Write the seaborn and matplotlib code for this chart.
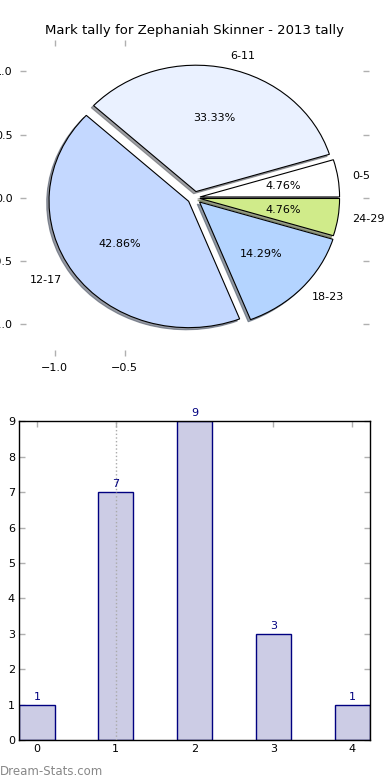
import matplotlib
matplotlib.use('Agg')
import matplotlib.pyplot as plt
import pandas as pd
import seaborn as sns

TITLE = 'Mark tally for Zephaniah Skinner - 2013 tally'
PIE_LABELS = ['0-5', '6-11', '12-17', '18-23', '24-29']
PIE_COUNTS = [1, 7, 9, 3, 1]
PIE_COLORS = ['#ffffff', '#eaf1ff', '#c4d8ff', '#b4d4ff', '#d0eb8a']
PIE_EXPLODE = [0.04, 0.05, 0.05, 0.05, 0.04]

BAR_POS = [0, 1, 2, 3, 4]
BAR_COUNTS = [1, 7, 9, 3, 1]
MARKER_X = 1

sns.set_theme(style='white')
plt.rcParams['font.family'] = ['DejaVu Sans']
plt.rcParams['font.size'] = 8
plt.rcParams['text.color'] = 'black'
plt.rcParams['xtick.labelcolor'] = 'black'
plt.rcParams['ytick.labelcolor'] = 'black'

fig = plt.figure(figsize=(3.9, 7.8), dpi=100)

# pie on top
ax1 = fig.add_axes([0.051, 0.544, 0.895, 0.405])
ax1.pie(PIE_COUNTS, labels=PIE_LABELS, colors=PIE_COLORS, explode=PIE_EXPLODE,
        autopct='%.2f%%', startangle=0,
        shadow={'ox': -0.012, 'oy': -0.012, 'shade': 0.6, 'alpha': 0.6},
        wedgeprops={'edgecolor': 'black', 'linewidth': 0.8},
        textprops={'fontsize': 8, 'color': 'black'})
ax1.set_aspect('auto')
ax1.set_xlim(-1.25, 1.25)
ax1.set_ylim(-1.25, 1.25)
ax1.set_xticks([-1.0, -0.5])
ax1.set_yticks([-1.0, -0.5, 0.0, 0.5, 1.0])
ax1.tick_params(direction='in', length=4, width=1, color='#b0b0b0',
                top=True, right=True, left=True, bottom=True, labelsize=8, pad=5)
ax1.set_title(TITLE, fontsize=9.5, pad=4, color='black')

# tally bars below
ax2 = fig.add_axes([0.049, 0.051, 0.9, 0.409])
df = pd.DataFrame({'mark': BAR_POS, 'count': BAR_COUNTS})
sns.barplot(data=df, x='mark', y='count', width=0.45, color='#cccce5',
            edgecolor='#000080', linewidth=1, saturation=1, ax=ax2)
ax2.axvline(MARKER_X, color='#aaaaaa', linestyle=':', linewidth=1, zorder=3)
for c in ax2.containers:
    ax2.bar_label(c, color='#000080', fontsize=8, padding=2)
ax2.set_xlim(-0.225, 4.225)
ax2.set_ylim(0, 9)
ax2.set_yticks(range(0, 10))
ax2.set_xlabel('')
ax2.set_ylabel('')
for s in ax2.spines.values():
    s.set_color('black')
    s.set_linewidth(1)
    s.set_visible(True)
ax2.tick_params(direction='in', length=4, width=1, color='#b0b0b0',
                top=True, right=True, left=True, bottom=True, labelsize=8, pad=3)

fig.text(0.0, 0.006, 'Dream-Stats.com', color='#888888', fontsize=8.5)

fig.savefig('out.png', dpi=100)
